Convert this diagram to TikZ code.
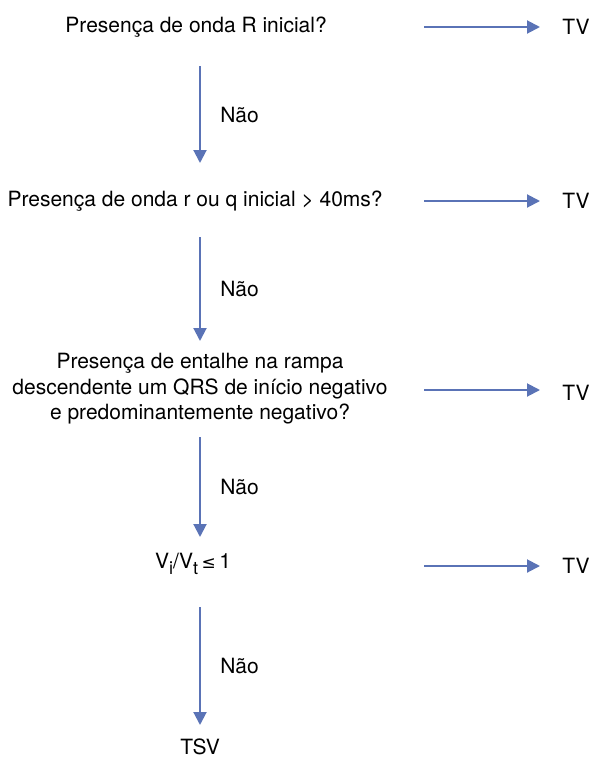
\documentclass[tikz,border=0pt]{standalone}
\usepackage{fontspec}
\setmainfont{TeX Gyre Heros}
\newfontfamily\symfont{DejaVu Sans}
\usepackage{tikz}
\usetikzlibrary{positioning}
\usetikzlibrary{arrows.meta}

\definecolor{arrowblue}{RGB}{90,115,182}

\tikzset{
	question/.style={align=center, font=\fontsize{21}{25.5}\selectfont},
	answer/.style={font=\fontsize{21}{25.5}\selectfont},
	arrow/.style={-{Triangle[length=13pt,width=13pt]}, line width=2pt, arrowblue},
	nolabel/.style={text=black, font=\fontsize{21}{25.5}\selectfont, right=16pt}
}

\begin{document}
\begin{tikzpicture}[x=1pt,y=1pt]

\useasboundingbox (0,0) rectangle (600,-761);

% Questions
\node [question] (q1) at (200,-27) {
Presença de onda R inicial?
};
\node [question] (q2) at (199,-201) {
Presença de onda r ou q inicial > 40ms?
};
\node [question] (q3) at (200,-389) {
Presença de entalhe na rampa\\descendente um QRS de início negativo\\e predominantemente negativo?
};
\node [question] (q4) at (196,-564) {
V\raisebox{-6pt}{\fontsize{18}{18}\selectfont i}/V\raisebox{-6pt}{\fontsize{18}{18}\selectfont t}\,{\symfont\fontsize{17}{17}\selectfont ≤}\,1
};

% Outcomes
\node [answer] (tv1) at (576,-27) {TV};
\node [answer] (tv2) at (576,-201) {TV};
\node [answer] (tv3) at (576,-393) {TV};
\node [answer] (tv4) at (576,-566) {TV};
\node [answer] (tsv) at (200,-747) {TSV};

% Arrows to TV
\draw[arrow] ([xshift=-152pt]tv1.center) -- ([xshift=-36pt]tv1.center);
\draw[arrow] ([xshift=-152pt]tv2.center) -- ([xshift=-36pt]tv2.center);
\draw[arrow] ([xshift=-152pt,yshift=3pt]tv3.center) -- ([xshift=-36pt,yshift=3pt]tv3.center);
\draw[arrow] ([xshift=-152pt]tv4.center) -- ([xshift=-36pt]tv4.center);

% Arrows with text label
\draw[arrow] ([yshift=-39pt]q1.center) -- ([xshift=1pt,yshift=38pt]q2.center) node[midway, nolabel] {Não};
\draw[arrow] ([xshift=1pt,yshift=-36pt]q2.center) -- ([yshift=48pt]q3.center) node[midway, nolabel] {Não};
\draw[arrow] ([yshift=-48pt]q3.center) -- ([xshift=4pt,yshift=27pt]q4.center) node[midway, nolabel] {Não};
\draw[arrow] ([xshift=4pt,yshift=-43pt]q4.center) -- ([yshift=22pt]tsv.center) node[midway, nolabel] {Não};

\end{tikzpicture}
\end{document}
